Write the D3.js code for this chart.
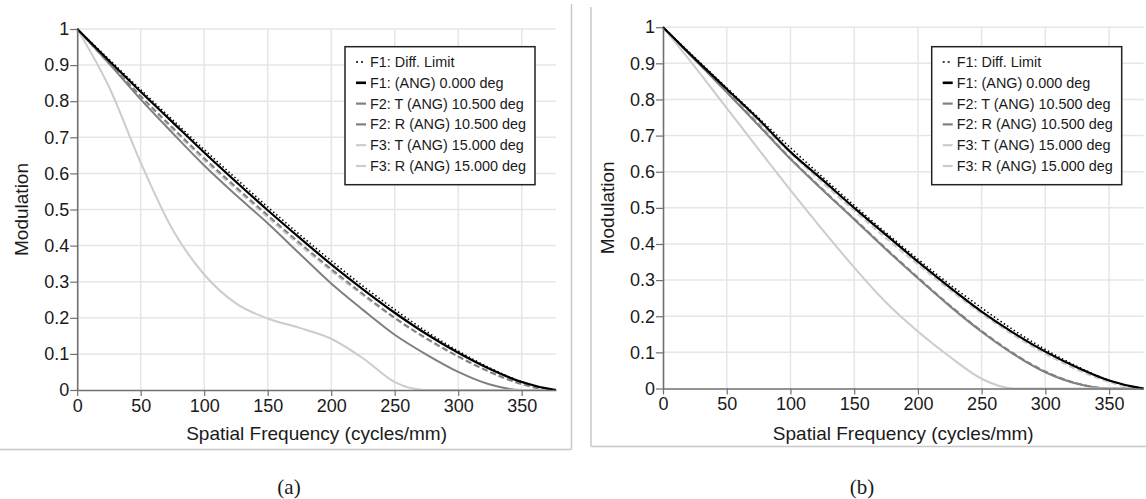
<!DOCTYPE html>
<html><head><meta charset="utf-8">
<script src="https://cdn.jsdelivr.net/npm/d3@7"></script>
<style>
html,body{margin:0;padding:0;background:#fff;}
svg{display:block;}
text{font-family:"Liberation Sans",Arial,sans-serif;fill:#1a1a1a;}
</style></head><body>
<svg id="chart" width="1146" height="499"></svg>
<script>
// ---- data ----
const freq = [0,25,50,75,100,125,150,175,200,225,250,275,300,325,350,375,377];

// panel (a)
const diffA = [1,0.916,0.832,0.749,0.666,0.586,0.507,0.431,0.358,0.288,0.223,0.162,0.108,0.061,0.023,0.001,0];
const f1A   = [1,0.912,0.826,0.742,0.658,0.577,0.498,0.422,0.348,0.279,0.214,0.155,0.103,0.058,0.022,0.001,0];
const f2tA  = [1,0.905,0.805,0.712,0.622,0.540,0.462,0.378,0.295,0.222,0.153,0.098,0.050,0.015,0,0,0];
const f2rA  = [1,0.906,0.814,0.727,0.642,0.562,0.484,0.408,0.335,0.266,0.200,0.143,0.093,0.050,0.017,0,0];
const f3tA  = [1,0.840,0.630,0.445,0.320,0.240,0.198,0.172,0.142,0.088,0.022,0,0,0,0,0,0];
const f3rA  = [1,0.904,0.810,0.722,0.636,0.556,0.478,0.402,0.330,0.262,0.198,0.141,0.092,0.049,0.016,0,0];

// panel (b)
const diffB = [1,0.916,0.832,0.749,0.666,0.586,0.507,0.431,0.358,0.288,0.223,0.162,0.108,0.061,0.023,0.001,0];
const f1B   = [1,0.913,0.829,0.745,0.655,0.578,0.500,0.425,0.351,0.280,0.213,0.154,0.102,0.058,0.022,0.001,0];
const f2tB  = [1,0.910,0.820,0.728,0.635,0.550,0.468,0.385,0.305,0.228,0.157,0.095,0.045,0.013,0,0,0];
const f2rB  = [1,0.911,0.821,0.730,0.637,0.552,0.470,0.387,0.307,0.230,0.159,0.097,0.047,0.014,0,0,0];
const f3tB  = [1,0.890,0.776,0.662,0.549,0.440,0.335,0.238,0.158,0.088,0.027,0,0,0,0,0,0];
const f3rB  = [1,0.910,0.824,0.738,0.652,0.570,0.492,0.416,0.343,0.273,0.207,0.148,0.096,0.052,0.018,0,0];

const xTicks = [0,50,100,150,200,250,300,350];
const yTicks = [0,0.1,0.2,0.3,0.4,0.5,0.6,0.7,0.8,0.9,1];
const yTickLabels = ["0","0.1","0.2","0.3","0.4","0.5","0.6","0.7","0.8","0.9","1"];
const legendLabels = ["F1: Diff. Limit","F1: (ANG) 0.000 deg","F2: T (ANG) 10.500 deg","F2: R (ANG) 10.500 deg","F3: T (ANG) 15.000 deg","F3: R (ANG) 15.000 deg"];
const panelLabels = ["(a)","(b)"];
const xTitle = "Spatial Frequency (cycles/mm)";
const yTitle = "Modulation";

// ---- styles ----
const styles = [
  {stroke:"#000000", w:1.6, dash:"1.4,2.6", sw:1.6},   // diff
  {stroke:"#000000", w:2.2, dash:null, sw:2.6},        // F1
  {stroke:"#808080", w:2.0, dash:null, sw:2.2},        // F2 T
  {stroke:"#808080", w:2.0, dash:"6,3", sw:2.2},       // F2 R
  {stroke:"#cccccc", w:2.0, dash:null, sw:2.2},        // F3 T
  {stroke:"#cccccc", w:2.0, dash:"6,3", sw:2.2}        // F3 R
];
// drawing order (index into series)
const drawOrder = [5,3,2,4,0,1];

const svg = d3.select("#chart");

// panel frames
const frameColor = "#c8c8c8";
svg.append("line").attr("x1",571.5).attr("y1",4).attr("x2",571.5).attr("y2",449.5).attr("stroke",frameColor).attr("stroke-width",1.5);
svg.append("line").attr("x1",0).attr("y1",449.5).attr("x2",571.5).attr("y2",449.5).attr("stroke",frameColor).attr("stroke-width",1.5);
svg.append("line").attr("x1",591).attr("y1",7).attr("x2",591).attr("y2",446.5).attr("stroke",frameColor).attr("stroke-width",1.5);
svg.append("line").attr("x1",591).attr("y1",446.5).attr("x2",1146).attr("y2",446.5).attr("stroke",frameColor).attr("stroke-width",1.5);

const panels = [
  {left:77.2, top:29, right:556, bottom:390, legX:345, series:[diffA,f1A,f2tA,f2rA,f3tA,f3rA], labelX:289},
  {left:663, top:27.2, right:1143.5, bottom:388.5, legX:931.7, series:[diffB,f1B,f2tB,f2rB,f3tB,f3rB], labelX:862}
];

panels.forEach((p,pi)=>{
  const x = d3.scaleLinear().domain([0,377]).range([p.left,p.right]);
  const y = d3.scaleLinear().domain([0,1]).range([p.bottom,p.top]);
  const g = svg.append("g");

  // grid
  g.selectAll(".vg").data(xTicks.filter(d=>d>0)).enter().append("line")
    .attr("x1",d=>x(d)).attr("x2",d=>x(d)).attr("y1",y(0)).attr("y2",y(1))
    .attr("stroke","#e6e6e6").attr("stroke-width",1.5);
  g.selectAll(".hg").data(yTicks.filter(d=>d>0)).enter().append("line")
    .attr("x1",x(0)).attr("x2",x(377)).attr("y1",d=>y(d)).attr("y2",d=>y(d))
    .attr("stroke","#e6e6e6").attr("stroke-width",1.5);

  // curves
  const line = d3.line().x((d,i)=>x(freq[i])).y(d=>y(d)).curve(d3.curveMonotoneX);
  drawOrder.forEach(si=>{
    const st = styles[si];
    g.append("path").datum(p.series[si]).attr("d",line)
      .attr("fill","none").attr("stroke",st.stroke).attr("stroke-width",st.w)
      .attr("stroke-dasharray",st.dash).attr("stroke-linejoin","round");
  });

  // axes
  const xAxis = d3.axisBottom(x).tickValues(xTicks).tickSize(6).tickSizeOuter(0).tickPadding(3);
  const yAxis = d3.axisLeft(y).tickValues(yTicks).tickSize(7).tickSizeOuter(0).tickPadding(1)
    .tickFormat((d,i)=>yTickLabels[i]);
  const gx = g.append("g").attr("transform",`translate(0,${y(0)})`).call(xAxis);
  const gy = g.append("g").attr("transform",`translate(${x(0)},0)`).call(yAxis);
  [gx,gy].forEach(a=>{
    a.select(".domain").attr("stroke","#707070").attr("stroke-width",1.6);
    a.selectAll(".tick line").attr("stroke","#707070").attr("stroke-width",1.2);
    a.selectAll(".tick text").attr("fill","#1a1a1a").style("font-size","18px")
      .style("font-family","'Liberation Sans',Arial,sans-serif");
  });

  // titles
  g.append("text").attr("x",(p.left+p.right)/2).attr("y",440).attr("text-anchor","middle")
    .style("font-size","19px").text(xTitle);
  g.append("text").attr("transform",`translate(${p.left-56},${(p.top+p.bottom)/2}) rotate(-90)`)
    .attr("text-anchor","middle").attr("dy","0.35em").style("font-size","19px").text(yTitle);

  // legend
  const lg = g.append("g").attr("transform",`translate(${p.legX},46.7)`);
  lg.append("rect").attr("x",0).attr("y",0).attr("width",190).attr("height",138)
    .attr("fill","#fff").attr("stroke","#222").attr("stroke-width",1.5);
  legendLabels.forEach((lab,i)=>{
    const st = styles[i];
    const cy = 15.3 + i*20.8;
    lg.append("line").attr("x1",11).attr("x2",21).attr("y1",cy).attr("y2",cy)
      .attr("stroke",st.stroke).attr("stroke-width",st.sw)
      .attr("stroke-dasharray", i===0 ? "2,3" : null);
    lg.append("text").attr("x",25).attr("y",cy).attr("dy","0.35em")
      .style("font-size","14.4px").text(lab);
  });

  // panel label
  svg.append("text").attr("x",p.labelX).attr("y",494).attr("text-anchor","middle")
    .style("font-family","'Liberation Serif','Times New Roman',serif").style("font-size","21px")
    .text(panelLabels[pi]);
});
</script>
</body></html>
